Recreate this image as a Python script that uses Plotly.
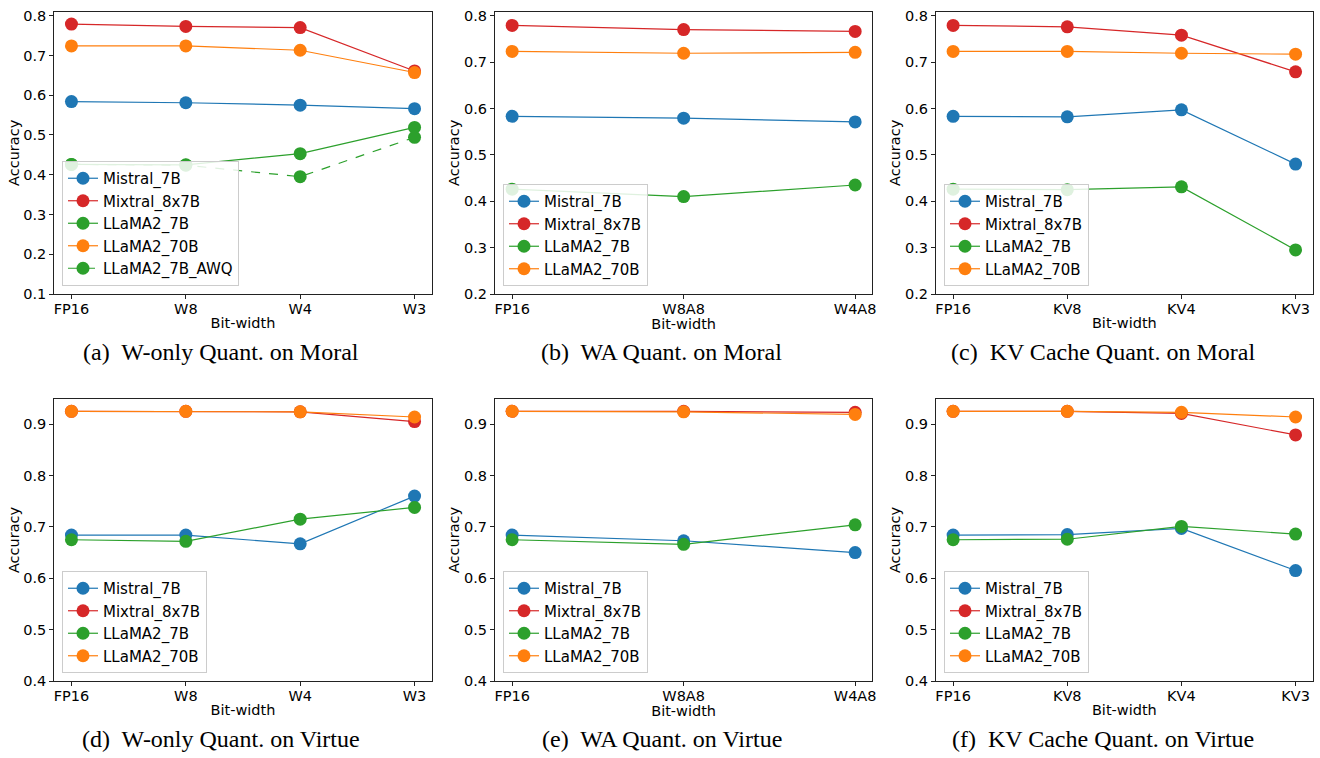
import plotly.graph_objects as go

# ---------------- data ----------------
series_names = ["Mistral_7B", "Mixtral_8x7B", "LLaMA2_7B", "LLaMA2_70B"]
awq_name = "LLaMA2_7B_AWQ"

cats_w = ["FP16", "W8", "W4", "W3"]
cats_wa = ["FP16", "W8A8", "W4A8"]
cats_kv = ["FP16", "KV8", "KV4", "KV3"]

# (a) W-only Quant. on Moral
moral_w_mistral = [0.584, 0.581, 0.575, 0.566]
moral_w_mixtral = [0.779, 0.773, 0.770, 0.661]
moral_w_llama7 = [0.426, 0.425, 0.453, 0.519]
moral_w_llama70 = [0.724, 0.724, 0.713, 0.657]
moral_w_llama7_awq = [0.426, 0.424, 0.395, 0.494]

# (b) WA Quant. on Moral
moral_wa_mistral = [0.583, 0.579, 0.571]
moral_wa_mixtral = [0.779, 0.770, 0.766]
moral_wa_llama7 = [0.426, 0.410, 0.435]
moral_wa_llama70 = [0.723, 0.719, 0.721]

# (c) KV Cache Quant. on Moral
moral_kv_mistral = [0.583, 0.582, 0.597, 0.480]
moral_kv_mixtral = [0.779, 0.776, 0.758, 0.679]
moral_kv_llama7 = [0.426, 0.425, 0.431, 0.295]
moral_kv_llama70 = [0.723, 0.723, 0.719, 0.717]

# (d) W-only Quant. on Virtue
virtue_w_mistral = [0.684, 0.684, 0.667, 0.760]
virtue_w_mixtral = [0.925, 0.925, 0.924, 0.905]
virtue_w_llama7 = [0.675, 0.672, 0.715, 0.738]
virtue_w_llama70 = [0.925, 0.925, 0.924, 0.914]

# (e) WA Quant. on Virtue
virtue_wa_mistral = [0.684, 0.673, 0.650]
virtue_wa_mixtral = [0.925, 0.925, 0.923]
virtue_wa_llama7 = [0.675, 0.666, 0.704]
virtue_wa_llama70 = [0.925, 0.924, 0.919]

# (f) KV Cache Quant. on Virtue
virtue_kv_mistral = [0.684, 0.685, 0.697, 0.615]
virtue_kv_mixtral = [0.925, 0.925, 0.921, 0.879]
virtue_kv_llama7 = [0.675, 0.676, 0.701, 0.686]
virtue_kv_llama70 = [0.925, 0.925, 0.923, 0.914]

captions = [
    "(a)  W-only Quant. on Moral",
    "(b)  WA Quant. on Moral",
    "(c)  KV Cache Quant. on Moral",
    "(d)  W-only Quant. on Virtue",
    "(e)  WA Quant. on Virtue",
    "(f)  KV Cache Quant. on Virtue",
]

# ---------------- styles ----------------
colors = ["#1f77b4", "#d62728", "#2ca02c", "#ff7f0e"]
W, H = 1320, 758

panels = [
    dict(cats=cats_w, ys=[moral_w_mistral, moral_w_mixtral, moral_w_llama7, moral_w_llama70],
         awq=moral_w_llama7_awq, yr=[0.1, 0.81], yt=[0.1, 0.2, 0.3, 0.4, 0.5, 0.6, 0.7, 0.8]),
    dict(cats=cats_wa, ys=[moral_wa_mistral, moral_wa_mixtral, moral_wa_llama7, moral_wa_llama70],
         awq=None, yr=[0.2, 0.8086], yt=[0.2, 0.3, 0.4, 0.5, 0.6, 0.7, 0.8]),
    dict(cats=cats_kv, ys=[moral_kv_mistral, moral_kv_mixtral, moral_kv_llama7, moral_kv_llama70],
         awq=None, yr=[0.2, 0.8086], yt=[0.2, 0.3, 0.4, 0.5, 0.6, 0.7, 0.8]),
    dict(cats=cats_w, ys=[virtue_w_mistral, virtue_w_mixtral, virtue_w_llama7, virtue_w_llama70],
         awq=None, yr=[0.4, 0.949], yt=[0.4, 0.5, 0.6, 0.7, 0.8, 0.9]),
    dict(cats=cats_wa, ys=[virtue_wa_mistral, virtue_wa_mixtral, virtue_wa_llama7, virtue_wa_llama70],
         awq=None, yr=[0.4, 0.949], yt=[0.4, 0.5, 0.6, 0.7, 0.8, 0.9]),
    dict(cats=cats_kv, ys=[virtue_kv_mistral, virtue_kv_mixtral, virtue_kv_llama7, virtue_kv_llama70],
         awq=None, yr=[0.4, 0.949], yt=[0.4, 0.5, 0.6, 0.7, 0.8, 0.9]),
]

# pixel boxes of plot areas (left, right, top, bottom)
col_x = [(54.3, 431.7), (495.0, 872.3), (936.0, 1312.7)]
row_y = [(11.7, 294.0), (399.0, 681.0)]
legend_pos = [(62, 286), (503, 286), (944, 286), (62, 673), (503, 673), (944, 673)]
caption_pos = [(221, 352), (662, 352), (1103, 352), (221, 739), (662, 739), (1103, 739)]

fig = go.Figure()
layout = {}
annotations = []
tick_font = dict(family="DejaVu Sans", size=14.5, color="black")

for i, p in enumerate(panels):
    r, c = divmod(i, 3)
    n = i + 1
    xa = "x" if n == 1 else f"x{n}"
    ya = "y" if n == 1 else f"y{n}"
    lg = "legend" if n == 1 else f"legend{n}"
    for k, name in enumerate(series_names):
        fig.add_trace(go.Scatter(
            x=p["cats"], y=p["ys"][k], name=name, mode="lines+markers",
            line=dict(color=colors[k], width=1.2),
            marker=dict(color=colors[k], size=13, symbol="circle"),
            xaxis=xa, yaxis=ya, legend=lg, showlegend=True,
        ))
    if p["awq"] is not None:
        fig.add_trace(go.Scatter(
            x=p["cats"], y=p["awq"], name=awq_name, mode="lines+markers",
            line=dict(color=colors[2], width=1.2, dash="dash"),
            marker=dict(color=colors[2], size=13, symbol="circle"),
            xaxis=xa, yaxis=ya, legend=lg, showlegend=True,
        ))

    x0, x1 = col_x[c]
    yt0, yb0 = row_y[r]
    ncat = len(p["cats"])
    pad = 0.05 * (ncat - 1)
    axkey = "xaxis" if n == 1 else f"xaxis{n}"
    aykey = "yaxis" if n == 1 else f"yaxis{n}"
    layout[axkey] = dict(
        domain=[x0 / W, x1 / W], anchor=ya, type="category",
        categoryorder="array", categoryarray=p["cats"],
        range=[-pad, ncat - 1 + pad], automargin=False,
        showline=True, linecolor="#222", linewidth=1.2, mirror=True,
        ticks="outside", ticklen=4, tickcolor="#222", tickfont=tick_font,
        ticklabelstandoff=-3,
        showgrid=False, zeroline=False,
        title=dict(text="Bit-width", font=tick_font, standoff=2),
    )
    layout[aykey] = dict(
        domain=[1 - yb0 / H, 1 - yt0 / H], anchor=xa, automargin=False,
        range=p["yr"], tickvals=p["yt"], tickformat=".1f",
        showline=True, linecolor="#222", linewidth=1.2, mirror=True,
        ticks="outside", ticklen=4, tickcolor="#222", tickfont=tick_font,
        showgrid=False, zeroline=False,
        title=dict(text="Accuracy", font=tick_font, standoff=0),
    )
    lx, ly = legend_pos[i]
    layout[lg] = dict(
        x=lx / W, y=1 - ly / H, xanchor="left", yanchor="bottom",
        xref="paper", yref="paper",
        bgcolor="rgba(255,255,255,0.85)", bordercolor="#cccccc", borderwidth=1,
        font=dict(family="DejaVu Sans", size=15, color="black"),
        itemsizing="trace", tracegroupgap=0,
    )
    cx, cy = caption_pos[i]
    annotations.append(dict(
        text=captions[i], x=cx / W, y=1 - cy / H, xref="paper", yref="paper",
        xanchor="center", yanchor="middle", showarrow=False,
        font=dict(family="Liberation Serif", size=24, color="black"),
    ))

fig.update_layout(
    width=W, height=H, margin=dict(l=0, r=0, t=0, b=0),
    paper_bgcolor="white", plot_bgcolor="white",
    annotations=annotations, **layout,
)

fig.write_html(
    "out.html",
    config={"displayModeBar": False},
    post_script="document.body.style.margin='0';document.body.style.padding='0';",
)
